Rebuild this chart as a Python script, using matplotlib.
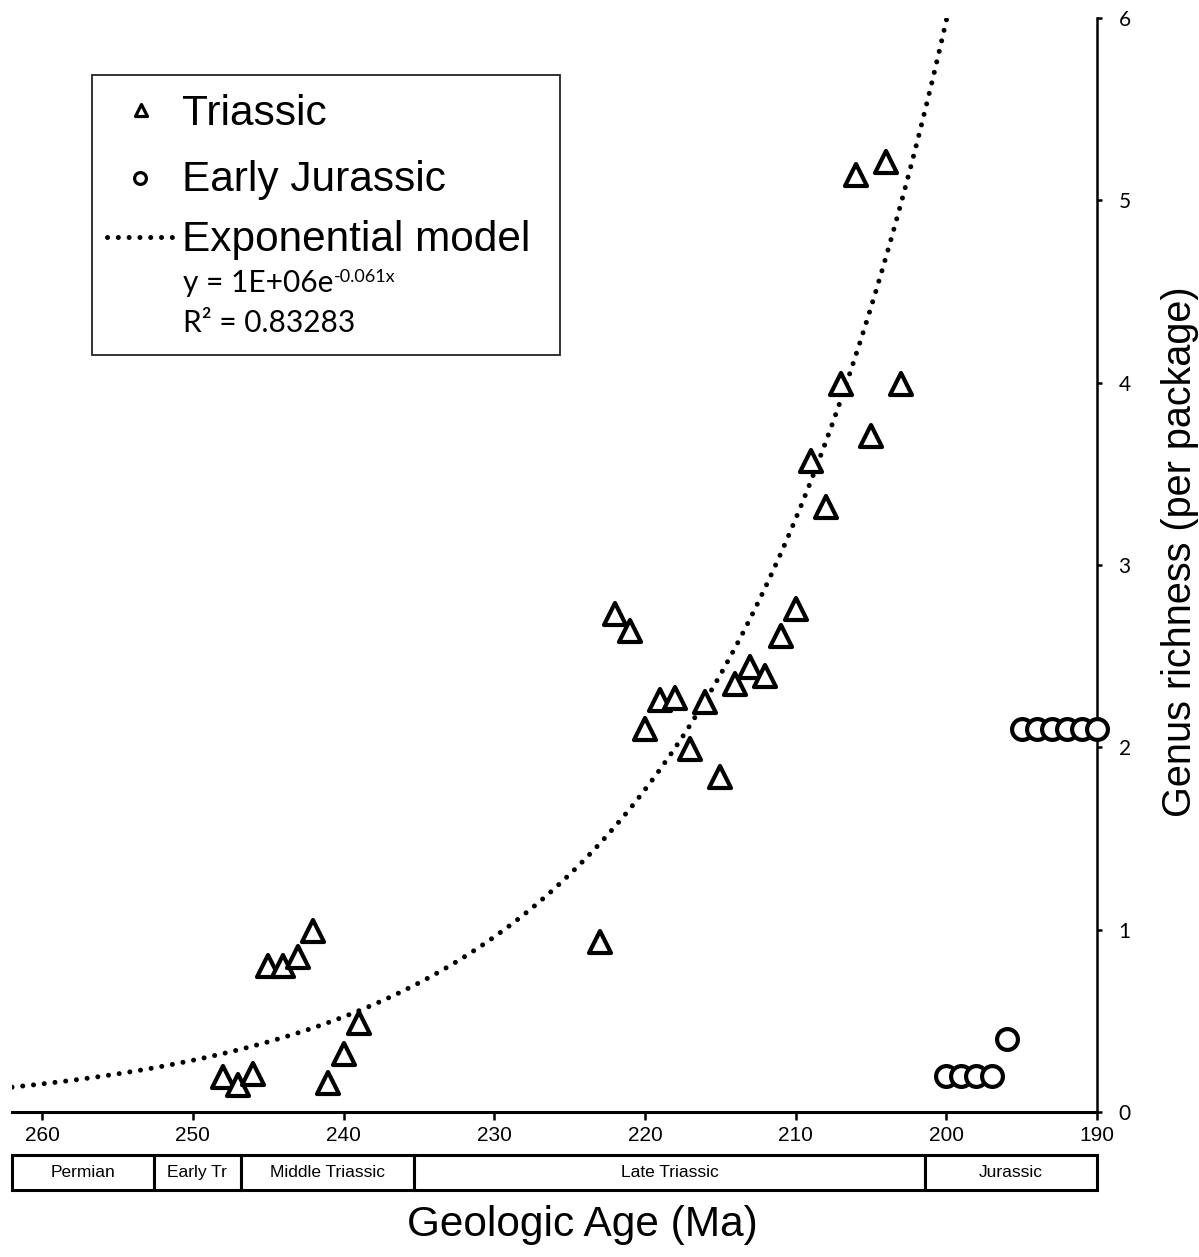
import numpy as np
import matplotlib
matplotlib.use("Agg")
import matplotlib.pyplot as plt
from matplotlib import font_manager
from matplotlib.lines import Line2D
from matplotlib.markers import MarkerStyle
from matplotlib.patches import Rectangle

# Triassic packages: age (Ma) and genus richness per package
triassic_age = [248, 247, 246, 245, 244, 243, 242, 241, 240, 239,
                223, 222, 221, 220, 219, 218, 217, 216, 215, 214,
                213, 212, 211, 210, 209, 208, 207, 206, 205, 204, 203]
triassic_rich = [0.19, 0.15, 0.21, 0.80, 0.80, 0.85, 0.99, 0.16, 0.32, 0.49,
                 0.93, 2.73, 2.64, 2.10, 2.26, 2.27, 1.99, 2.25, 1.84, 2.35,
                 2.44, 2.39, 2.61, 2.76, 3.57, 3.32, 3.99, 5.14, 3.71, 5.21, 3.99]

# Early Jurassic packages
jurassic_age = [200, 199, 198, 197, 196, 195, 194, 193, 192, 191, 190]
jurassic_rich = [0.20, 0.20, 0.20, 0.20, 0.40, 2.10, 2.10, 2.10, 2.10, 2.10, 2.10]

# exponential trend y = a * exp(-b * age)
fit_a = 1.19e6
fit_b = 0.061
fit_r2 = 0.83283

# time scale bar
era_names = ["Permian", "Early Tr", "Middle Triassic", "Late Triassic", "Jurassic"]
era_edges = [262, 252.6, 246.8, 235.3, 201.4, 190]

x_ticks = [260, 250, 240, 230, 220, 210, 200, 190]
y_ticks = [0, 1, 2, 3, 4, 5, 6]


def pick_font(*names):
    for n in names:
        try:
            font_manager.findfont(n, fallback_to_default=False)
            return n
        except ValueError:
            pass
    return "DejaVu Sans"


SANS = pick_font("Liberation Sans", "Arial")
NARROW = pick_font("Liberation Sans Narrow", "Liberation Sans")
CAL = pick_font("Lato", "Open Sans")
narrow_ok = NARROW == "Liberation Sans Narrow"

W, H = 1199, 1257
fig = plt.figure(figsize=(W / 100, H / 100), dpi=100)


def fx(px):
    return px / W


def fy(py):
    return 1 - py / H


ax = fig.add_axes([fx(12), fy(1112), fx(1097) - fx(12), fy(18) - fy(1112)])
ax.set_xlim(262, 190)
ax.set_ylim(0, 6)

tri = MarkerStyle("^", joinstyle="round")
ax.plot(triassic_age, triassic_rich, linestyle="none", marker=tri, markersize=16.5,
        markerfacecolor="white", markeredgecolor="black", markeredgewidth=3.0,
        clip_on=False, zorder=3)
ax.plot(jurassic_age, jurassic_rich, linestyle="none", marker="o", markersize=15,
        markerfacecolor="white", markeredgecolor="black", markeredgewidth=3.0,
        clip_on=False, zorder=3)

xs = np.linspace(262, 190, 600)
ax.plot(xs, fit_a * np.exp(-fit_b * xs), color="black", linewidth=3.6,
        dashes=(0.01, 2.15), dash_capstyle="round", zorder=2)

for s in ["top", "left"]:
    ax.spines[s].set_visible(False)
ax.spines["bottom"].set_linewidth(2.2)
ax.spines["right"].set_linewidth(1.8)

ax.yaxis.tick_right()
ax.set_xticks(x_ticks)
ax.set_yticks(y_ticks)
ax.tick_params(axis="x", direction="out", length=6, width=1.8, pad=4,
               labelsize=17 if narrow_ok else 15)
ax.tick_params(axis="y", direction="out", length=3.5, width=1.8, pad=12,
               labelsize=15)
for lab in ax.get_xticklabels():
    lab.set_fontfamily(NARROW)
for lab in ax.get_yticklabels():
    lab.set_fontfamily(CAL)

# time scale bar under the axis
bar = fig.add_axes([fx(12), fy(1190), fx(1097) - fx(12), fy(1155) - fy(1190)])
bar.set_xlim(262, 190)
bar.set_ylim(0, 1)
bar.axis("off")
for name, x0, x1 in zip(era_names, era_edges[:-1], era_edges[1:]):
    bar.add_patch(Rectangle((x0, 0), x1 - x0, 1, facecolor="white",
                            edgecolor="black", linewidth=2.2, clip_on=False))
    bar.text((x0 + x1) / 2, 0.5, name, ha="center", va="center",
             fontsize=14 if narrow_ok else 12.5, family=NARROW)

fig.text(fx(582), fy(1225), "Geologic Age (Ma)", ha="center", va="center",
         fontsize=30.5, family=SANS)
fig.text(fx(1180), fy(552), "Genus richness (per package)", ha="center",
         va="center", rotation=90, fontsize=28.5, family=SANS)

# legend box
fig.patches.append(Rectangle((fx(92), fy(355)), fx(560) - fx(92), fy(75) - fy(355),
                             transform=fig.transFigure, facecolor="white",
                             edgecolor="#222222", linewidth=1.3, zorder=5))
fig.lines.append(Line2D([fx(141)], [fy(110)], transform=fig.transFigure,
                        marker=MarkerStyle("^", joinstyle="round"), markersize=8.5,
                        markerfacecolor="white", markeredgecolor="black",
                        markeredgewidth=2.3, zorder=6))
fig.lines.append(Line2D([fx(140)], [fy(178)], transform=fig.transFigure,
                        marker="o", markersize=8.5, markerfacecolor="white",
                        markeredgecolor="black", markeredgewidth=2.3, zorder=6))
fig.lines.append(Line2D([fx(107), fx(172)], [fy(237), fy(237)],
                        transform=fig.transFigure, color="black", linewidth=3.6,
                        dashes=(0.01, 2.15), dash_capstyle="round", zorder=6))

entries = [("Triassic", 125), ("Early Jurassic", 191), ("Exponential model", 251)]
for label, base in entries:
    fig.text(fx(182), fy(base), label, ha="left", va="baseline", fontsize=30.5,
             family=SANS, zorder=7)

# equation: base text followed by a raised exponent
eq = fig.text(fx(183), fy(292), "y = 1E+06e", ha="left", va="baseline",
              fontsize=21.5, family=CAL, zorder=7)
renderer = fig.canvas.get_renderer()
eq_right = eq.get_window_extent(renderer).x1
fig.text(eq_right / fig.bbox.width + fx(1), fy(282), "-%.3fx" % fit_b, ha="left",
         va="baseline", fontsize=13, family=CAL, zorder=7)
fig.text(fx(183), fy(332), "R\u00b2 = %.5f" % fit_r2, ha="left", va="baseline",
         fontsize=21.5, family=CAL, zorder=7)

fig.savefig("out.png", dpi=100, facecolor="white")
